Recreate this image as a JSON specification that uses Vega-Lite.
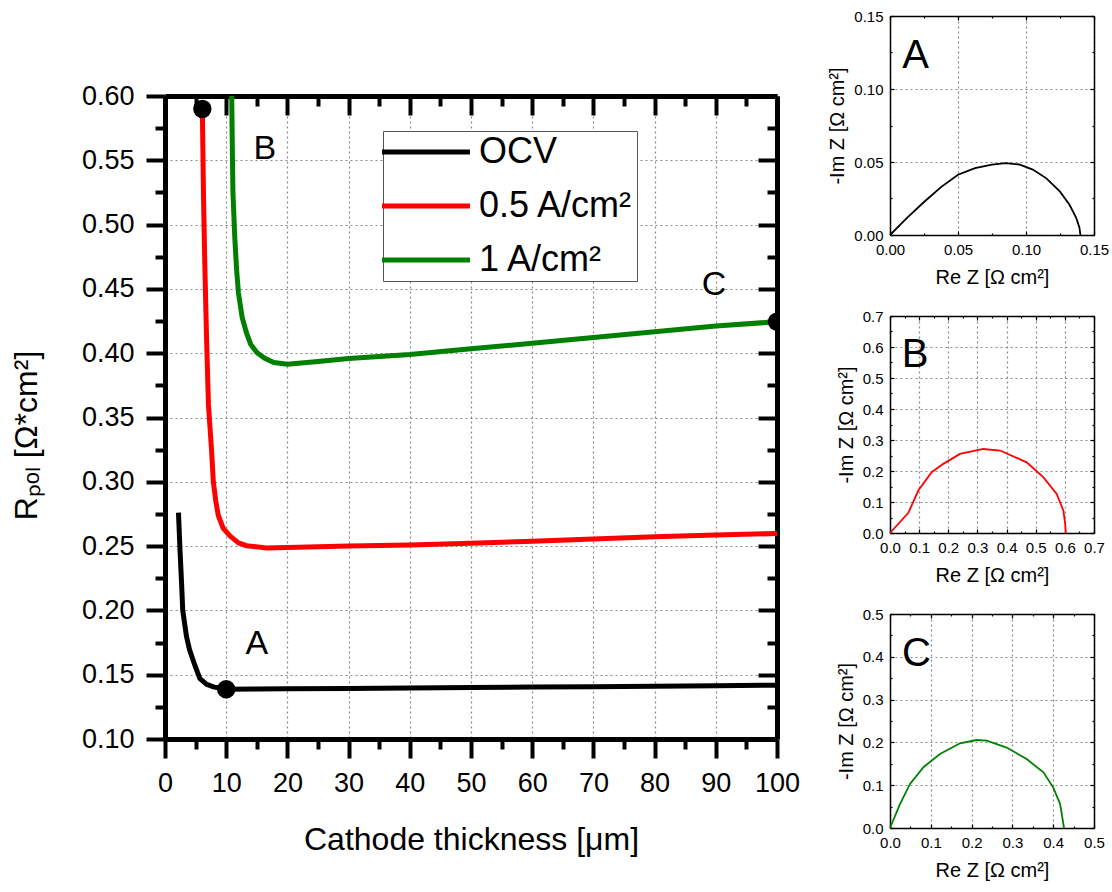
{
  "$schema": "https://vega.github.io/schema/vega-lite/v6.json",
  "background": "white",
  "padding": {"left": 10, "top": 9, "right": 5, "bottom": 5},
  "config": {
    "font": "Liberation Sans",
    "view": {"stroke": null},
    "axis": {
      "labelFont": "Liberation Sans",
      "titleFont": "Liberation Sans",
      "titleFontWeight": "normal",
      "labelColor": "black",
      "titleColor": "black",
      "domainColor": "black",
      "tickColor": "black",
      "gridColor": "#888888",
      "gridDash": [2, 3],
      "gridWidth": 1.2,
      "labelOverlap": false,
      "labelFlush": false
    },
    "legend": {"labelFont": "Liberation Sans"}
  },
  "datasets": {
    "curves": [
      {"series": "OCV", "t": 2.2, "r": 0.276},
      {"series": "OCV", "t": 2.45, "r": 0.247},
      {"series": "OCV", "t": 2.7, "r": 0.222},
      {"series": "OCV", "t": 2.9, "r": 0.2},
      {"series": "OCV", "t": 3.5, "r": 0.18},
      {"series": "OCV", "t": 4.0, "r": 0.1695},
      {"series": "OCV", "t": 4.9, "r": 0.157},
      {"series": "OCV", "t": 5.7, "r": 0.147},
      {"series": "OCV", "t": 6.8, "r": 0.1425},
      {"series": "OCV", "t": 7.9, "r": 0.1405},
      {"series": "OCV", "t": 10, "r": 0.1387},
      {"series": "OCV", "t": 15, "r": 0.1388},
      {"series": "OCV", "t": 20, "r": 0.139},
      {"series": "OCV", "t": 30, "r": 0.1393},
      {"series": "OCV", "t": 40, "r": 0.1396},
      {"series": "OCV", "t": 50, "r": 0.14},
      {"series": "OCV", "t": 60, "r": 0.1404},
      {"series": "OCV", "t": 70, "r": 0.1407},
      {"series": "OCV", "t": 80, "r": 0.141},
      {"series": "OCV", "t": 90, "r": 0.1415},
      {"series": "OCV", "t": 100, "r": 0.1418},
      {"series": "0.5 A/cm²", "t": 6.1, "r": 0.59},
      {"series": "0.5 A/cm²", "t": 6.3, "r": 0.52},
      {"series": "0.5 A/cm²", "t": 6.5, "r": 0.47},
      {"series": "0.5 A/cm²", "t": 6.8, "r": 0.41},
      {"series": "0.5 A/cm²", "t": 7.1, "r": 0.36},
      {"series": "0.5 A/cm²", "t": 7.6, "r": 0.325},
      {"series": "0.5 A/cm²", "t": 7.9, "r": 0.3},
      {"series": "0.5 A/cm²", "t": 8.3, "r": 0.285},
      {"series": "0.5 A/cm²", "t": 8.7, "r": 0.274},
      {"series": "0.5 A/cm²", "t": 9.5, "r": 0.264},
      {"series": "0.5 A/cm²", "t": 10.6, "r": 0.258},
      {"series": "0.5 A/cm²", "t": 12, "r": 0.2525},
      {"series": "0.5 A/cm²", "t": 13.3, "r": 0.2503},
      {"series": "0.5 A/cm²", "t": 16.6, "r": 0.2485},
      {"series": "0.5 A/cm²", "t": 20, "r": 0.249},
      {"series": "0.5 A/cm²", "t": 30, "r": 0.25},
      {"series": "0.5 A/cm²", "t": 40, "r": 0.2509},
      {"series": "0.5 A/cm²", "t": 50, "r": 0.2522},
      {"series": "0.5 A/cm²", "t": 60, "r": 0.2538},
      {"series": "0.5 A/cm²", "t": 70, "r": 0.2556},
      {"series": "0.5 A/cm²", "t": 80, "r": 0.2572},
      {"series": "0.5 A/cm²", "t": 90, "r": 0.2586},
      {"series": "0.5 A/cm²", "t": 100, "r": 0.2598},
      {"series": "1 A/cm²", "t": 10.9, "r": 0.6},
      {"series": "1 A/cm²", "t": 11.0, "r": 0.56},
      {"series": "1 A/cm²", "t": 11.1, "r": 0.525},
      {"series": "1 A/cm²", "t": 11.4, "r": 0.49},
      {"series": "1 A/cm²", "t": 11.7, "r": 0.465},
      {"series": "1 A/cm²", "t": 12.0, "r": 0.447},
      {"series": "1 A/cm²", "t": 12.6, "r": 0.428},
      {"series": "1 A/cm²", "t": 13.3, "r": 0.416},
      {"series": "1 A/cm²", "t": 14.0, "r": 0.407},
      {"series": "1 A/cm²", "t": 15.0, "r": 0.4005},
      {"series": "1 A/cm²", "t": 16.3, "r": 0.396},
      {"series": "1 A/cm²", "t": 17.8, "r": 0.3927},
      {"series": "1 A/cm²", "t": 20, "r": 0.3914},
      {"series": "1 A/cm²", "t": 25, "r": 0.3935},
      {"series": "1 A/cm²", "t": 30, "r": 0.3958},
      {"series": "1 A/cm²", "t": 40, "r": 0.399},
      {"series": "1 A/cm²", "t": 50, "r": 0.4034},
      {"series": "1 A/cm²", "t": 60, "r": 0.4078},
      {"series": "1 A/cm²", "t": 70, "r": 0.4122},
      {"series": "1 A/cm²", "t": 80, "r": 0.4167},
      {"series": "1 A/cm²", "t": 90, "r": 0.4211},
      {"series": "1 A/cm²", "t": 100, "r": 0.4245}
    ],
    "dots": [
      {"t": 10, "r": 0.1387},
      {"t": 6.1, "r": 0.59},
      {"t": 100, "r": 0.4245}
    ],
    "mainlabels": [
      {"label": "A", "t": 15.0, "r": 0.1735},
      {"label": "B", "t": 16.3, "r": 0.5586},
      {"label": "C", "t": 89.7, "r": 0.453}
    ],
    "nyqA": [
      {"re": 0, "im": 0},
      {"re": 0.0125, "im": 0.0118},
      {"re": 0.025, "im": 0.0226},
      {"re": 0.0375, "im": 0.0328},
      {"re": 0.05, "im": 0.0413},
      {"re": 0.0625, "im": 0.0458},
      {"re": 0.075, "im": 0.0482},
      {"re": 0.085, "im": 0.0492},
      {"re": 0.095, "im": 0.0483},
      {"re": 0.105, "im": 0.0448},
      {"re": 0.115, "im": 0.0388},
      {"re": 0.125, "im": 0.0297},
      {"re": 0.132, "im": 0.0207},
      {"re": 0.137, "im": 0.0115},
      {"re": 0.1393, "im": 0.005},
      {"re": 0.14, "im": 0}
    ],
    "nyqB": [
      {"re": 0, "im": 0},
      {"re": 0.063, "im": 0.065},
      {"re": 0.097, "im": 0.137},
      {"re": 0.143, "im": 0.196},
      {"re": 0.183, "im": 0.223},
      {"re": 0.24, "im": 0.255},
      {"re": 0.32, "im": 0.271},
      {"re": 0.378, "im": 0.266},
      {"re": 0.469, "im": 0.228},
      {"re": 0.526, "im": 0.18},
      {"re": 0.572, "im": 0.126},
      {"re": 0.595, "im": 0.072},
      {"re": 0.601, "im": 0.03},
      {"re": 0.603, "im": 0}
    ],
    "nyqC": [
      {"re": 0, "im": 0},
      {"re": 0.0245, "im": 0.056},
      {"re": 0.049, "im": 0.103},
      {"re": 0.082, "im": 0.142},
      {"re": 0.1225, "im": 0.173},
      {"re": 0.1716, "im": 0.198},
      {"re": 0.212, "im": 0.2056},
      {"re": 0.237, "im": 0.204},
      {"re": 0.286, "im": 0.188},
      {"re": 0.335, "im": 0.161},
      {"re": 0.376, "im": 0.13},
      {"re": 0.4, "im": 0.095},
      {"re": 0.417, "im": 0.056},
      {"re": 0.425, "im": 0.009},
      {"re": 0.4265, "im": 0}
    ],
    "lblA": [{"label": "A", "re": 0.0189, "im": 0.1228}],
    "lblB": [{"label": "B", "re": 0.0858, "im": 0.573}],
    "lblC": [{"label": "C", "re": 0.065, "im": 0.4065}],
    "empty": []
  },
  "spacing": 27,
  "hconcat": [
    {
      "spacing": 0,
      "vconcat": [
        {
          "data": {"name": "empty"},
          "width": 612,
          "height": 66,
          "mark": {"type": "point", "opacity": 0},
          "encoding": {}
        },
        {
          "width": 612,
          "height": 643,
          "layer": [
            {
              "data": {"name": "curves"},
              "mark": {"type": "line", "strokeWidth": 5, "clip": true},
              "encoding": {
                "x": {
                  "field": "t", "type": "quantitative",
                  "scale": {"domain": [0, 100], "nice": false},
                  "axis": {
                    "orient": "bottom",
                    "values": [0, 5, 10, 15, 20, 25, 30, 35, 40, 45, 50, 55, 60, 65, 70, 75, 80, 85, 90, 95, 100],
                    "labelExpr": "datum.value % 10 === 0 ? datum.label : ''",
                    "tickSize": {"condition": {"test": "datum.value % 10 !== 0", "value": 10}, "value": 19},
                    "tickWidth": 4,
                    "domainWidth": 5,
                    "grid": true,
                    "gridOpacity": {"condition": {"test": "datum.value % 10 !== 0", "value": 0}, "value": 1},
                    "labelFontSize": 27,
                    "labelPadding": 12,
                    "title": "Cathode thickness [μm]",
                    "titleFontSize": 32,
                    "titlePadding": 28
                  }
                },
                "y": {
                  "field": "r", "type": "quantitative",
                  "scale": {"domain": [0.1, 0.6], "nice": false, "zero": false},
                  "axis": {
                    "orient": "left",
                    "values": [0.1, 0.125, 0.15, 0.175, 0.2, 0.225, 0.25, 0.275, 0.3, 0.325, 0.35, 0.375, 0.4, 0.425, 0.45, 0.475, 0.5, 0.525, 0.55, 0.575, 0.6],
                    "labelExpr": "round(datum.value * 40) % 2 === 0 ? format(datum.value, '.2f') : ''",
                    "tickSize": {"condition": {"test": "round(datum.value * 40) % 2 !== 0", "value": 10}, "value": 19},
                    "tickWidth": 4,
                    "domainWidth": 5,
                    "grid": true,
                    "gridOpacity": {"condition": {"test": "round(datum.value * 40) % 2 !== 0", "value": 0}, "value": 1},
                    "labelFontSize": 27,
                    "labelPadding": 12,
                    "title": "Rₚₒₗ [Ω*cm²]",
                    "titleFontSize": 32,
                    "titlePadding": 38,
                    "titleY": 339
                  }
                },
                "color": {
                  "field": "series", "type": "nominal",
                  "scale": {"domain": ["OCV", "0.5 A/cm²", "1 A/cm²"], "range": ["#000000", "#ff0000", "#008000"]},
                  "legend": {
                    "title": null,
                    "orient": "none",
                    "legendX": 218,
                    "legendY": 115,
                    "symbolType": "M-3,0H3",
                    "symbolSize": 860,
                    "symbolStrokeWidth": 5,
                    "symbolOffset": 22,
                    "labelFontSize": 36,
                    "labelColor": "black",
                    "labelOffset": 35,
                    "rowPadding": 18,
                    "padding": 3,
                    "strokeColor": "#555555",
                    "fillColor": "white"
                  }
                }
              }
            },
            {
              "data": {"name": "dots"},
              "mark": {"type": "circle", "size": 340, "color": "black", "opacity": 1, "clip": true},
              "encoding": {
                "x": {
                  "field": "t", "type": "quantitative",
                  "axis": {
                    "orient": "top",
                    "values": [0, 5, 10, 15, 20, 25, 30, 35, 40, 45, 50, 55, 60, 65, 70, 75, 80, 85, 90, 95, 100],
                    "labels": false,
                    "tickSize": {"condition": {"test": "datum.value % 10 !== 0", "value": -10}, "value": -19},
                    "tickWidth": 4,
                    "domainWidth": 5,
                    "grid": false,
                    "title": null
                  }
                },
                "y": {
                  "field": "r", "type": "quantitative",
                  "axis": {
                    "orient": "right",
                    "values": [0.1, 0.125, 0.15, 0.175, 0.2, 0.225, 0.25, 0.275, 0.3, 0.325, 0.35, 0.375, 0.4, 0.425, 0.45, 0.475, 0.5, 0.525, 0.55, 0.575, 0.6],
                    "labels": false,
                    "tickSize": {"condition": {"test": "round(datum.value * 40) % 2 !== 0", "value": -10}, "value": -19},
                    "tickWidth": 4,
                    "domainWidth": 5,
                    "grid": false,
                    "title": null
                  }
                }
              }
            },
            {
              "data": {"name": "mainlabels"},
              "mark": {"type": "text", "fontSize": 34, "font": "Liberation Sans", "color": "black"},
              "encoding": {
                "x": {"field": "t", "type": "quantitative", "axis": null},
                "y": {"field": "r", "type": "quantitative", "axis": null},
                "text": {"field": "label"}
              }
            }
          ],
          "resolve": {"axis": {"x": "independent", "y": "independent"}}
        }
      ]
    },
    {
      "spacing": 22,
      "vconcat": [
        {
          "width": 204,
          "height": 219,
          "layer": [
            {
              "data": {"name": "nyqA"},
              "mark": {"type": "line", "strokeWidth": 1.8, "color": "black"},
              "encoding": {
                "x": {"field": "re", "type": "quantitative",
                  "scale": {"domain": [0, 0.15], "nice": false},
                  "axis": {"orient": "bottom", "values": [0, 0.025, 0.05, 0.075, 0.1, 0.125, 0.15],
                    "labelExpr": "round(datum.value * 40) % 2 === 0 ? format(datum.value, '.2f') : ''",
                    "tickSize": {"condition": {"test": "round(datum.value * 40) % 2 !== 0", "value": -2}, "value": -4},
                    "grid": true, "gridOpacity": {"condition": {"test": "round(datum.value * 40) % 2 !== 0", "value": 0}, "value": 1},
                    "domainWidth": 1.5, "tickWidth": 1.2, "labelFontSize": 15, "labelPadding": 11,
                    "title": "Re Z [Ω cm²]", "titleFontSize": 20, "titlePadding": 8}},
                "y": {"field": "im", "type": "quantitative",
                  "scale": {"domain": [0, 0.15], "nice": false},
                  "axis": {"orient": "left", "values": [0, 0.025, 0.05, 0.075, 0.1, 0.125, 0.15],
                    "labelExpr": "round(datum.value * 40) % 2 === 0 ? format(datum.value, '.2f') : ''",
                    "tickSize": {"condition": {"test": "round(datum.value * 40) % 2 !== 0", "value": -2}, "value": -4},
                    "grid": true, "gridOpacity": {"condition": {"test": "round(datum.value * 40) % 2 !== 0", "value": 0}, "value": 1},
                    "domainWidth": 1.5, "tickWidth": 1.2, "labelFontSize": 15, "labelPadding": 11,
                    "title": "-Im Z [Ω cm²]", "titleFontSize": 20, "titlePadding": 6}},
                "order": {"field": "re", "type": "quantitative"}
              }
            },
            {
              "data": {"name": "lblA"},
              "mark": {"type": "text", "fontSize": 40, "color": "black"},
              "encoding": {
                "x": {"field": "re", "type": "quantitative",
                  "axis": {"orient": "top", "values": [0, 0.025, 0.05, 0.075, 0.1, 0.125, 0.15], "labels": false,
                    "tickSize": {"condition": {"test": "round(datum.value * 40) % 2 !== 0", "value": -2}, "value": -4},
                    "grid": false, "domainWidth": 1.5, "tickWidth": 1.2, "title": null}},
                "y": {"field": "im", "type": "quantitative",
                  "axis": {"orient": "right", "values": [0, 0.025, 0.05, 0.075, 0.1, 0.125, 0.15], "labels": false,
                    "tickSize": {"condition": {"test": "round(datum.value * 40) % 2 !== 0", "value": -2}, "value": -4},
                    "grid": false, "domainWidth": 1.5, "tickWidth": 1.2, "title": null}},
                "text": {"field": "label"}
              }
            }
          ],
          "resolve": {"axis": {"x": "independent", "y": "independent"}}
        },
        {
          "width": 204,
          "height": 217,
          "layer": [
            {
              "data": {"name": "nyqB"},
              "mark": {"type": "line", "strokeWidth": 1.8, "color": "#ff0000"},
              "encoding": {
                "x": {"field": "re", "type": "quantitative",
                  "scale": {"domain": [0, 0.7], "nice": false},
                  "axis": {"orient": "bottom", "values": [0, 0.05, 0.1, 0.15, 0.2, 0.25, 0.3, 0.35, 0.4, 0.45, 0.5, 0.55, 0.6, 0.65, 0.7],
                    "labelExpr": "round(datum.value * 20) % 2 === 0 ? format(datum.value, '.1f') : ''",
                    "tickSize": {"condition": {"test": "round(datum.value * 20) % 2 !== 0", "value": -2}, "value": -4},
                    "grid": true, "gridOpacity": {"condition": {"test": "round(datum.value * 20) % 2 !== 0", "value": 0}, "value": 1},
                    "domainWidth": 1.5, "tickWidth": 1.2, "labelFontSize": 15, "labelPadding": 11,
                    "title": "Re Z [Ω cm²]", "titleFontSize": 20, "titlePadding": 8}},
                "y": {"field": "im", "type": "quantitative",
                  "scale": {"domain": [0, 0.7], "nice": false},
                  "axis": {"orient": "left", "values": [0, 0.05, 0.1, 0.15, 0.2, 0.25, 0.3, 0.35, 0.4, 0.45, 0.5, 0.55, 0.6, 0.65, 0.7],
                    "labelExpr": "round(datum.value * 20) % 2 === 0 ? format(datum.value, '.1f') : ''",
                    "tickSize": {"condition": {"test": "round(datum.value * 20) % 2 !== 0", "value": -2}, "value": -4},
                    "grid": true, "gridOpacity": {"condition": {"test": "round(datum.value * 20) % 2 !== 0", "value": 0}, "value": 1},
                    "domainWidth": 1.5, "tickWidth": 1.2, "labelFontSize": 15, "labelPadding": 11,
                    "title": "-Im Z [Ω cm²]", "titleFontSize": 20, "titlePadding": 6}},
                "order": {"field": "re", "type": "quantitative"}
              }
            },
            {
              "data": {"name": "lblB"},
              "mark": {"type": "text", "fontSize": 40, "color": "black"},
              "encoding": {
                "x": {"field": "re", "type": "quantitative",
                  "axis": {"orient": "top", "values": [0, 0.05, 0.1, 0.15, 0.2, 0.25, 0.3, 0.35, 0.4, 0.45, 0.5, 0.55, 0.6, 0.65, 0.7], "labels": false,
                    "tickSize": {"condition": {"test": "round(datum.value * 20) % 2 !== 0", "value": -2}, "value": -4},
                    "grid": false, "domainWidth": 1.5, "tickWidth": 1.2, "title": null}},
                "y": {"field": "im", "type": "quantitative",
                  "axis": {"orient": "right", "values": [0, 0.05, 0.1, 0.15, 0.2, 0.25, 0.3, 0.35, 0.4, 0.45, 0.5, 0.55, 0.6, 0.65, 0.7], "labels": false,
                    "tickSize": {"condition": {"test": "round(datum.value * 20) % 2 !== 0", "value": -2}, "value": -4},
                    "grid": false, "domainWidth": 1.5, "tickWidth": 1.2, "title": null}},
                "text": {"field": "label"}
              }
            }
          ],
          "resolve": {"axis": {"x": "independent", "y": "independent"}}
        },
        {
          "width": 204,
          "height": 214,
          "layer": [
            {
              "data": {"name": "nyqC"},
              "mark": {"type": "line", "strokeWidth": 1.8, "color": "#008000"},
              "encoding": {
                "x": {"field": "re", "type": "quantitative",
                  "scale": {"domain": [0, 0.5], "nice": false},
                  "axis": {"orient": "bottom", "values": [0, 0.05, 0.1, 0.15, 0.2, 0.25, 0.3, 0.35, 0.4, 0.45, 0.5],
                    "labelExpr": "round(datum.value * 20) % 2 === 0 ? format(datum.value, '.1f') : ''",
                    "tickSize": {"condition": {"test": "round(datum.value * 20) % 2 !== 0", "value": -2}, "value": -4},
                    "grid": true, "gridOpacity": {"condition": {"test": "round(datum.value * 20) % 2 !== 0", "value": 0}, "value": 1},
                    "domainWidth": 1.5, "tickWidth": 1.2, "labelFontSize": 15, "labelPadding": 11,
                    "title": "Re Z [Ω cm²]", "titleFontSize": 20, "titlePadding": 8}},
                "y": {"field": "im", "type": "quantitative",
                  "scale": {"domain": [0, 0.5], "nice": false},
                  "axis": {"orient": "left", "values": [0, 0.05, 0.1, 0.15, 0.2, 0.25, 0.3, 0.35, 0.4, 0.45, 0.5],
                    "labelExpr": "round(datum.value * 20) % 2 === 0 ? format(datum.value, '.1f') : ''",
                    "tickSize": {"condition": {"test": "round(datum.value * 20) % 2 !== 0", "value": -2}, "value": -4},
                    "grid": true, "gridOpacity": {"condition": {"test": "round(datum.value * 20) % 2 !== 0", "value": 0}, "value": 1},
                    "domainWidth": 1.5, "tickWidth": 1.2, "labelFontSize": 15, "labelPadding": 11,
                    "title": "-Im Z [Ω cm²]", "titleFontSize": 20, "titlePadding": 6}},
                "order": {"field": "re", "type": "quantitative"}
              }
            },
            {
              "data": {"name": "lblC"},
              "mark": {"type": "text", "fontSize": 40, "color": "black"},
              "encoding": {
                "x": {"field": "re", "type": "quantitative",
                  "axis": {"orient": "top", "values": [0, 0.05, 0.1, 0.15, 0.2, 0.25, 0.3, 0.35, 0.4, 0.45, 0.5], "labels": false,
                    "tickSize": {"condition": {"test": "round(datum.value * 20) % 2 !== 0", "value": -2}, "value": -4},
                    "grid": false, "domainWidth": 1.5, "tickWidth": 1.2, "title": null}},
                "y": {"field": "im", "type": "quantitative",
                  "axis": {"orient": "right", "values": [0, 0.05, 0.1, 0.15, 0.2, 0.25, 0.3, 0.35, 0.4, 0.45, 0.5], "labels": false,
                    "tickSize": {"condition": {"test": "round(datum.value * 20) % 2 !== 0", "value": -2}, "value": -4},
                    "grid": false, "domainWidth": 1.5, "tickWidth": 1.2, "title": null}},
                "text": {"field": "label"}
              }
            }
          ],
          "resolve": {"axis": {"x": "independent", "y": "independent"}}
        }
      ]
    }
  ]
}
